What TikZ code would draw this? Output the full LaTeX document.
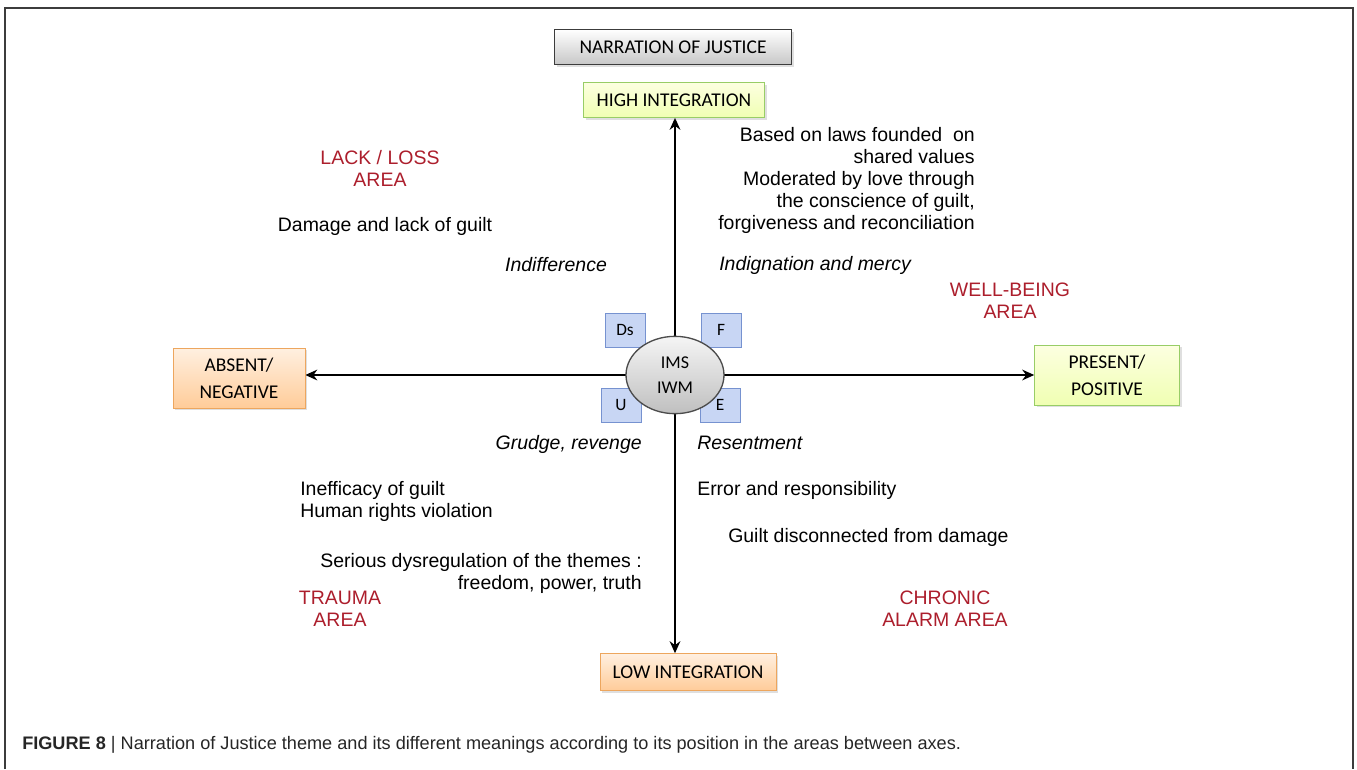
\documentclass[tikz,border=0pt]{standalone}
\usepackage{fontspec}
\setmainfont{Liberation Sans}
\newfontfamily\boxfont{Carlito}
\usepackage{tikz}
\usetikzlibrary{positioning,arrows.meta,shapes.geometric,backgrounds,shadows}
\definecolor{areared}{RGB}{172,30,44}
\definecolor{framegray}{RGB}{60,60,60}
\definecolor{smallfill}{RGB}{200,214,244}
\definecolor{smalldraw}{RGB}{118,146,208}

\begin{document}
\begin{tikzpicture}[x=0.75pt,y=-0.75pt,>=Stealth,
  note/.style={font=\fontsize{14.6}{16.5}\selectfont,inner sep=0pt},
  itnote/.style={note,font=\fontsize{14.6}{16.5}\selectfont\itshape},
  areatext/.style={note,text=areared,align=center},
  axisbox/.style={draw,rectangle,font=\boxfont\fontsize{14.6}{20}\selectfont,align=center,inner sep=2pt,
    drop shadow={opacity=0.25,shadow xshift=1.5pt,shadow yshift=-1.5pt}},
  graybox/.style={axisbox,draw=framegray,line width=1pt,top color=white,bottom color=black!22},
  greenbox/.style={axisbox,draw=green!35!olive!60,top color=green!8!yellow!12,bottom color=green!20!yellow!30},
  orangebox/.style={axisbox,draw=orange!60!brown!70,top color=orange!12,bottom color=orange!40},
  smallbox/.style={draw=smalldraw,fill=smallfill,rectangle,minimum width=30pt,minimum height=25.5pt,
    font=\boxfont\fontsize{13}{15}\selectfont,inner sep=1pt},
  axis/.style={->,line width=1.9pt,-{Stealth[length=9pt,width=8pt]}}]
\useasboundingbox (0,0) rectangle (1357,769);
% frame round the figure
\draw[framegray,line width=1.5pt] (5,769) |- (1353,8) -- (1353,769);
% ---------------- axis ends ----------------
\node[graybox,minimum width=177.75pt,minimum height=26.25pt] (narration) at (673,47) {NARRATION OF JUSTICE};
\node[greenbox,minimum width=135.75pt,minimum height=26.25pt] (highint) at (674,100) {HIGH INTEGRATION};
\node[orangebox,minimum width=132pt,minimum height=27.75pt] (lowint) at (688,672) {LOW INTEGRATION};
\node[orangebox,minimum width=99pt,minimum height=45pt] (absent) at (239,378) {ABSENT/\\NEGATIVE};
\node[greenbox,minimum width=108.75pt,minimum height=45pt] (present) at (1107,375) {PRESENT/\\POSITIVE};
% ---------------- centre ----------------
\node[smallbox] (ds) at (625,330) {Ds};
\node[smallbox] (f) at (721,330) {F};
\node[smallbox] (u) at (621,405) {U};
\node[smallbox] (e) at (720,405) {E};
\node[ellipse,draw=black!70,line width=1pt,top color=black!4,bottom color=black!25,minimum width=73.5pt,minimum height=58pt,
  inner sep=0pt,align=center,font=\boxfont\fontsize{13.5}{19}\selectfont] (core) at (675,375) {IMS\\IWM};
\begin{scope}[on background layer]
  \draw[axis] (core.center) -- (highint.south -| core);
  \draw[axis] (core.center) -- (lowint.north -| core);
  \draw[axis] (core.center) -- (core -| absent.east);
  \draw[axis] (core.center) -- (core -| present.west);
\end{scope}
% ---------------- areas ----------------
\node[areatext] (lack) at (380,168) {LACK / LOSS\\AREA};
\node[areatext] (well) at (1010,301) {WELL-BEING\\AREA};
\node[areatext] (trauma) at (340,609) {TRAUMA\\AREA};
\node[areatext] (chronic) at (945,609) {CHRONIC\\ALARM AREA};
% ---------------- meanings ----------------
\node[note] (damage) at (385,226) {Damage and lack of guilt};
\node[itnote] (indiff) at (556,265) {Indifference};
\node[note,anchor=east,align=right] (laws) at (975,180) {Based on laws founded\ \ on\\shared values\\Moderated by love through\\the conscience of guilt,\\forgiveness and reconciliation};
\node[itnote,anchor=west] (indign) at (719,265) {Indignation and mercy};
\node[itnote,anchor=east] (grudge) at (642,444) {Grudge, revenge};
\node[note,anchor=west,align=left] (ineff) at (300,501) {Inefficacy of guilt\\Human rights violation};
\node[note,anchor=east,align=right] (serious) at (642,573) {Serious dysregulation of the themes :\\freedom, power, truth};
\node[itnote,anchor=west] (resent) at (697,443) {Resentment};
\node[note,anchor=west] (error) at (697,490) {Error and responsibility};
\node[note,anchor=west] (disconn) at (728,537) {Guilt disconnected from damage};
% caption
\node[anchor=west,inner sep=0pt,font=\fontsize{13.6}{16}\selectfont,text=black!85] (caption) at (22,745)
  {\textbf{FIGURE 8} | Narration of Justice theme and its different meanings according to its position in the areas between axes.};
\end{tikzpicture}
\end{document}
